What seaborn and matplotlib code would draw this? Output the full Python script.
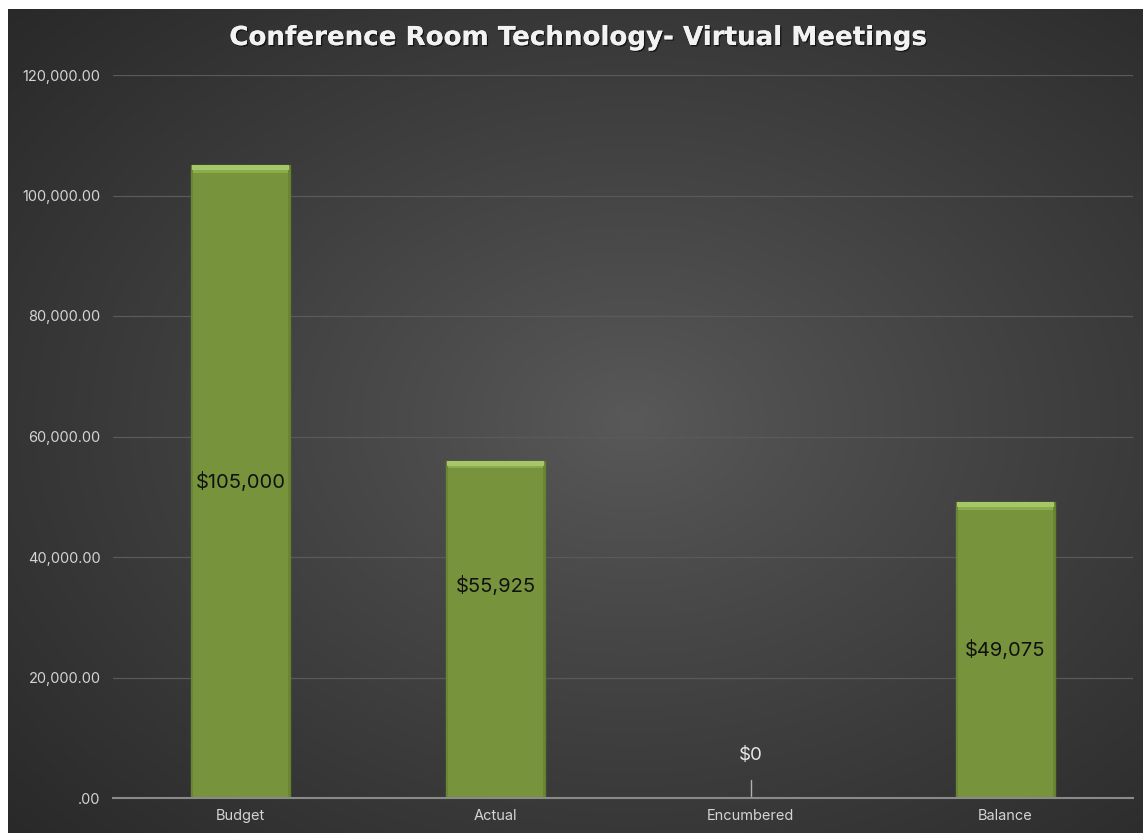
import numpy as np
import pandas as pd
import matplotlib
matplotlib.use("Agg")
import matplotlib.pyplot as plt
import seaborn as sns
from matplotlib.patches import Rectangle
from matplotlib.ticker import FuncFormatter
import matplotlib.patheffects as pe

# data
categories = ["Budget", "Actual", "Encumbered", "Balance"]
amounts = [105000, 55925, 0, 49075]
label_texts = ["$105,000", "$55,925", "$0", "$49,075"]
label_heights = [52500, 35200, 7100, 24540]
y_ticks = [0, 20000, 40000, 60000, 80000, 100000, 120000]

df = pd.DataFrame({"category": categories, "amount": amounts})

sns.set_theme(style="white")
plt.rcParams["font.family"] = ["Inter", "DejaVu Sans"]

W, H = 1143, 833
fig = plt.figure(figsize=(W / 100, H / 100), dpi=100)
fig.patch.set_facecolor("white")

# ------------------------------
# dark radial gradient background
# ------------------------------
bg = fig.add_axes([8 / W, 0, 1 - 8 / W, 1 - 9 / H], zorder=0)
gx, gy = np.meshgrid(np.linspace(0, 1, 400), np.linspace(0, 1, 300))
r = np.sqrt(((gx - 0.55) / 0.75) ** 2 + ((gy - 0.5) / 0.75) ** 2)
r = np.clip(r, 0, 1)
shade = 0.35 - (0.35 - 0.16) * r ** 0.9
img = np.dstack([shade, shade, shade])
bg.imshow(img, aspect="auto", extent=[0, 1, 0, 1], origin="lower")
bg.set_axis_off()

# ------------------------------
# bars
# ------------------------------
ax = fig.add_axes([113 / W, 35 / H, 1020 / W, 723 / H], zorder=1)
ax.set_facecolor("none")

sns.barplot(data=df, x="category", y="amount", color="#77933C",
            saturation=1, width=0.39, edgecolor="#62802c", linewidth=1.0,
            ax=ax, zorder=3)

# bevel: light strip on top, darker strips at the sides
for p in ax.patches:
    h = p.get_height()
    if h <= 0:
        continue
    x0, w = p.get_x(), p.get_width()
    ax.add_patch(Rectangle((x0 + 0.004, h - 800), w - 0.008, 800,
                           facecolor="#a6c768", edgecolor="none", zorder=4))
    ax.add_patch(Rectangle((x0 + 0.008, h - 1200), w - 0.016, 400,
                           facecolor="#8cab4c", edgecolor="none", zorder=4))
    for sx in (x0, x0 + w - 0.008):
        ax.add_patch(Rectangle((sx, 0), 0.008, h - 800,
                               facecolor="#6a8634", edgecolor="none", zorder=4))

ax.set_ylim(0, 120000)
ax.set_xlim(-0.5, 3.5)
ax.set_yticks(y_ticks)
ax.yaxis.set_major_formatter(FuncFormatter(lambda v, _: ".00" if v == 0 else f"{v:,.2f}"))
ax.grid(axis="y", color="#5a5a5a", linewidth=0.9, zorder=0)
ax.set_axisbelow(True)

for s in ["top", "right", "left"]:
    ax.spines[s].set_visible(False)
ax.spines["bottom"].set_color("#8a8a8a")
ax.spines["bottom"].set_linewidth(1.5)
ax.spines["bottom"].set_zorder(5)

ax.tick_params(axis="y", length=0, pad=9, labelsize=10.5, labelcolor="#d4d4d4")
ax.tick_params(axis="x", length=0, pad=8, labelsize=10.5, labelcolor="#d4d4d4")
ax.set_xlabel("")
ax.set_ylabel("")

# data labels
for i, (txt, yy, val) in enumerate(zip(label_texts, label_heights, amounts)):
    if val == 0:
        ax.text(i, yy, txt, ha="center", va="center", fontsize=13.5, color="#e6e6e6", zorder=6)
        ax.plot([i, i], [400, 3000], color="#b0b0b0", linewidth=1, zorder=6)
    else:
        ax.text(i, yy, txt, ha="center", va="center", fontsize=14.5, color="#111111", zorder=6)

fig.text(579 / W, 1 - 38 / H, "Conference Room Technology- Virtual Meetings",
         ha="center", va="center", fontsize=18.8, fontweight="bold", color="#f2f2f2",
         family=["DejaVu Sans"],
         path_effects=[pe.withSimplePatchShadow(offset=(1, -1), shadow_rgbFace="black", alpha=0.6),
                       pe.Normal()])

plt.savefig("out.png", dpi=100)
